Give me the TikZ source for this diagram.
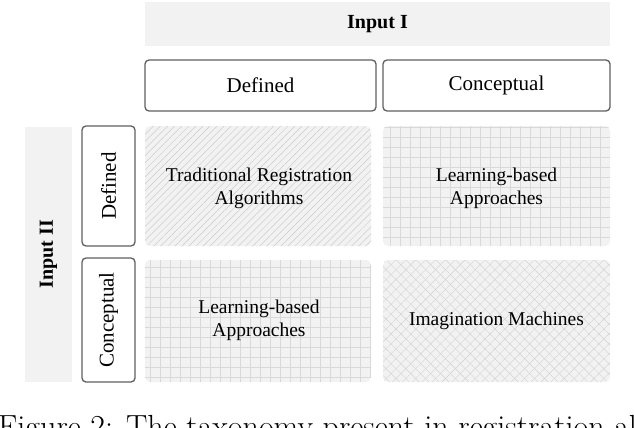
\documentclass[tikz,border=0pt]{standalone}
\usepackage{fontspec}
\setmainfont{Liberation Serif}
\newfontfamily\capfont{Latin Modern Roman}
\usetikzlibrary{patterns.meta}
\begin{document}
\begin{tikzpicture}[x=1pt,y=-1pt,
  hdr/.style={draw=gray!75!black,line width=1.3pt,rounded corners=4pt,fill=white,align=center,font=\fontsize{21}{24}\selectfont},
  cell/.style={rounded corners=5pt,align=center,font=\fontsize{19.5}{23}\selectfont},
  bar/.style={fill=gray!10}]
\useasboundingbox (0,0) rectangle (634,428);
\path[bar] (145,2) rectangle (610,46);
\node[font=\bfseries\fontsize{20}{22}\selectfont] (in1) at (377.5,24) {Input I};
\path[bar] (25,127) rectangle (72,382);
\node[font=\bfseries\fontsize{20}{22}\selectfont,rotate=90] (in2) at (48.5,254) {Input II};
\node[hdr,minimum width=231pt,minimum height=51pt] (cd) at (260.5,85.5) {Defined};
\node[hdr,minimum width=227pt,minimum height=51pt] (cc) at (496.5,85.5) {Conceptual};
\node[hdr,minimum width=120pt,minimum height=53pt,rotate=90] (rd) at (108.5,186) {Defined};
\node[hdr,minimum width=124pt,minimum height=53pt,rotate=90] (rc) at (108.5,320) {Conceptual};
% cells
\fill[gray!10,rounded corners=5pt] (145,126) rectangle (371,246);
\fill[pattern={Lines[angle=45,distance=5pt,line width=0.5pt]},pattern color=gray!40,rounded corners=5pt] (145,126) rectangle (371,246);
\fill[gray!10,rounded corners=5pt] (383,126) rectangle (610,246);
\fill[pattern={Lines[angle=0,distance=10pt,line width=1pt]},pattern color=gray!30,rounded corners=5pt] (383,126) rectangle (610,246);
\fill[pattern={Lines[angle=90,distance=10pt,line width=1pt]},pattern color=gray!30,rounded corners=5pt] (383,126) rectangle (610,246);
\fill[gray!10,rounded corners=5pt] (145,260) rectangle (371,382);
\fill[pattern={Lines[angle=0,distance=10pt,line width=1pt]},pattern color=gray!30,rounded corners=5pt] (145,260) rectangle (371,382);
\fill[pattern={Lines[angle=90,distance=10pt,line width=1pt]},pattern color=gray!30,rounded corners=5pt] (145,260) rectangle (371,382);
\fill[gray!10,rounded corners=5pt] (383,260) rectangle (610,382);
\fill[pattern={Lines[angle=45,distance=7pt,line width=0.4pt]},pattern color=gray!35,rounded corners=5pt] (383,260) rectangle (610,382);
\fill[pattern={Lines[angle=-45,distance=7pt,line width=0.4pt]},pattern color=gray!35,rounded corners=5pt] (383,260) rectangle (610,382);
\node[cell] (c11) at (259,188) {Traditional Registration\\Algorithms};
\node[cell] (c12) at (496.5,188) {Learning-based\\Approaches};
\node[cell] (c21) at (259,320) {Learning-based\\Approaches};
\node[cell] (c22) at (496.5,321) {Imagination Machines};
\node[anchor=base west,font=\capfont\fontsize{32}{34}\selectfont,inner sep=0] (cap) at (-2,437) {Figure 2: The taxonomy present in registration algo-};
\end{tikzpicture}
\end{document}
